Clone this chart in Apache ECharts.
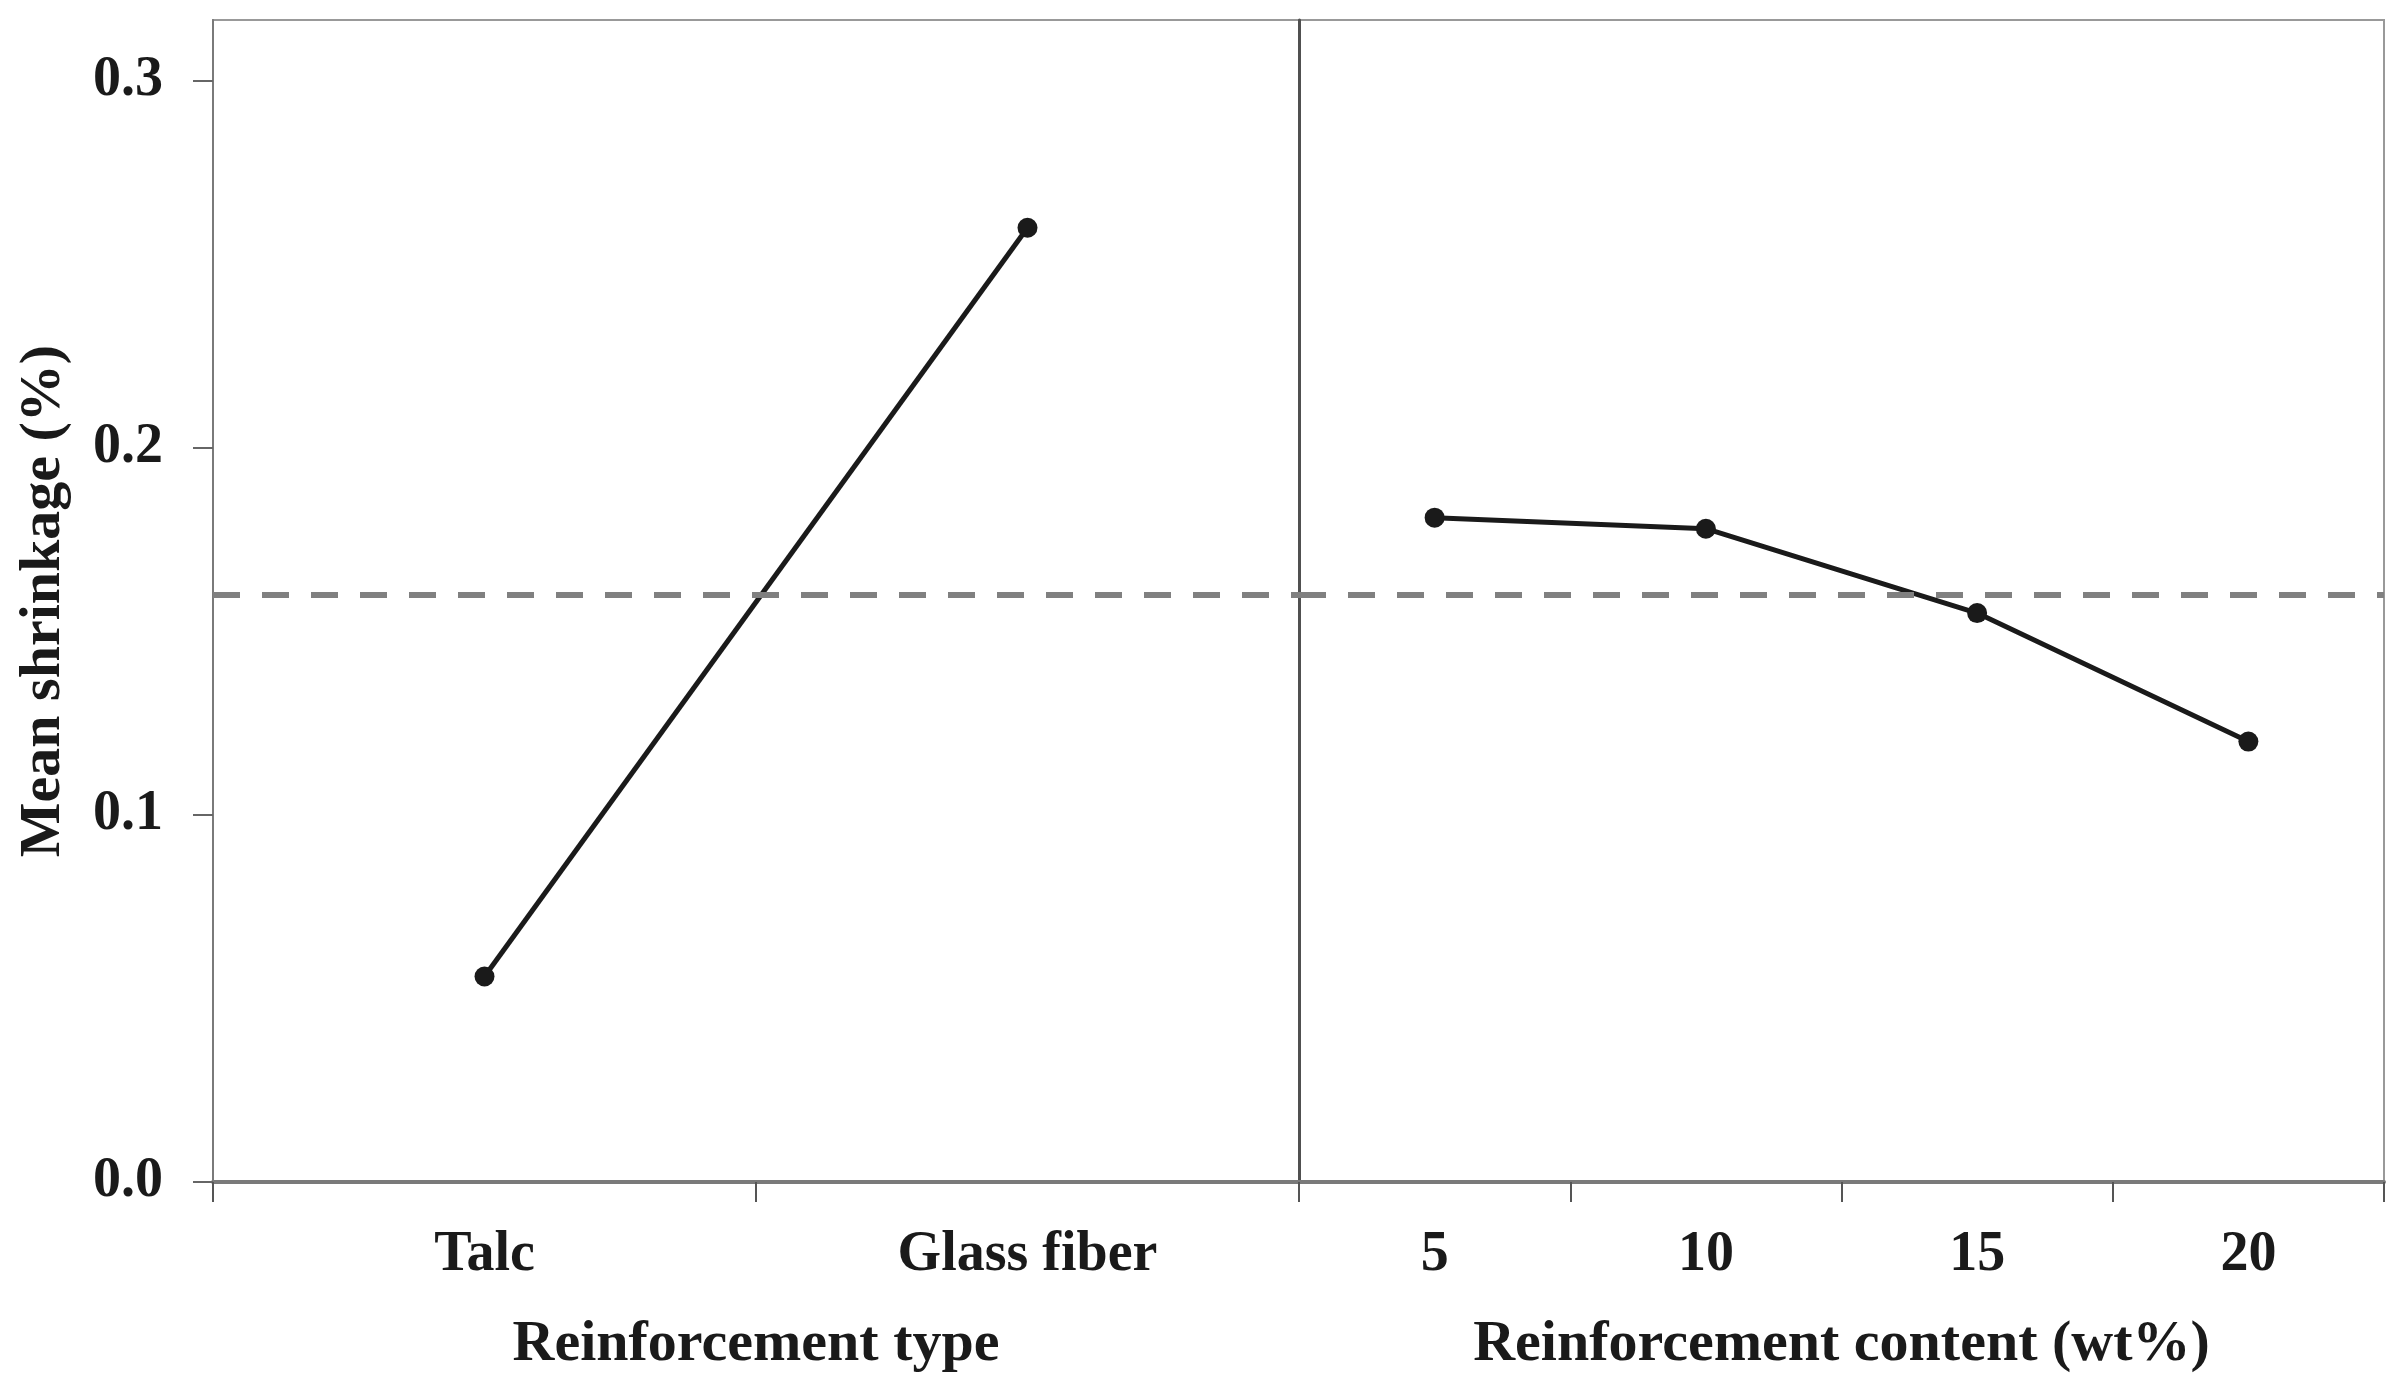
<!DOCTYPE html>
<html>
<head>
<meta charset="utf-8">
<script src="https://cdn.jsdelivr.net/npm/echarts@6/dist/echarts.min.js"></script>
<style>html,body{margin:0;padding:0;background:#fff;}#c{width:2408px;height:1397px;}</style>
</head>
<body>
<div id="c"></div>
<script>
// Data
const typeCategories = ['Talc', 'Glass fiber'];
const typeMeans = [0.056, 0.260];
const contentCategories = ['5', '10', '15', '20'];
const contentMeans = [0.181, 0.178, 0.155, 0.120];
const grandMean = [0.158];
const yTicks = [0, 0.1, 0.2, 0.3];

const FONT = '"Liberation Serif", "DejaVu Serif", serif';
const chart = echarts.init(document.getElementById('c'));

const txt = { fontFamily: FONT, fontSize: 56, fontWeight: 'bold', color: '#1a1a1a' };

function xAxis(idx, data, name) {
  return {
    type: 'category', gridIndex: idx, data: data,
    boundaryGap: true,
    axisLine: { show: true, lineStyle: { color: '#7a7a7a', width: 4 } },
    axisTick: { show: true, inside: false, length: 20, lineStyle: { color: '#555', width: 2 } },
    axisLabel: Object.assign({ margin: 46 }, txt),
    name: name, nameLocation: 'middle', nameGap: 134,
    nameTextStyle: Object.assign({}, txt, { fontSize: 58 }),
    splitLine: { show: false }
  };
}

function yAxis(idx, main) {
  return {
    type: 'value', gridIndex: idx, min: 0, max: 0.3166, interval: 0.1,
    axisLine: { show: true, lineStyle: { color: main ? '#7a7a7a' : '#505050', width: main ? 2 : 3 } },
    axisTick: { show: main, inside: false, length: 20, customValues: yTicks, lineStyle: { color: '#666', width: 2 } },
    axisLabel: Object.assign({ show: main, margin: 50, customValues: yTicks,
      formatter: v => v.toFixed(1) }, txt),
    splitLine: { show: false },
    name: main ? 'Mean shrinkage (%)' : '',
    nameLocation: 'middle', nameGap: 140, nameRotate: 90,
    nameTextStyle: Object.assign({}, txt, { fontSize: 58 })
  };
}

function markLine() {
  return {
    silent: true, symbol: 'none', label: { show: false },
    lineStyle: { type: [27, 22], color: '#808080', width: 6 },
    data: grandMean.map(v => ({ yAxis: v }))
  };
}

const option = {
  animation: false,
  backgroundColor: '#ffffff',
  grid: [
    { left: 213, top: 20, width: 1086, height: 1162, show: true, borderColor: '#999', borderWidth: 2, containLabel: false },
    { left: 1299, top: 20, width: 1085, height: 1162, show: true, borderColor: '#999', borderWidth: 2, containLabel: false }
  ],
  xAxis: [xAxis(0, typeCategories, 'Reinforcement type'), xAxis(1, contentCategories, 'Reinforcement content (wt%)')],
  yAxis: [yAxis(0, true), yAxis(1, false)],
  series: [
    {
      type: 'line', xAxisIndex: 0, yAxisIndex: 0, data: typeMeans,
      symbol: 'circle', symbolSize: 20,
      itemStyle: { color: '#1a1a1a' }, lineStyle: { color: '#1a1a1a', width: 5 },
      markLine: markLine(), z: 3
    },
    {
      type: 'line', xAxisIndex: 1, yAxisIndex: 1, data: contentMeans,
      symbol: 'circle', symbolSize: 20,
      itemStyle: { color: '#1a1a1a' }, lineStyle: { color: '#1a1a1a', width: 5 },
      markLine: markLine(), z: 3
    }
  ]
};
chart.setOption(option);
</script>
</body>
</html>
